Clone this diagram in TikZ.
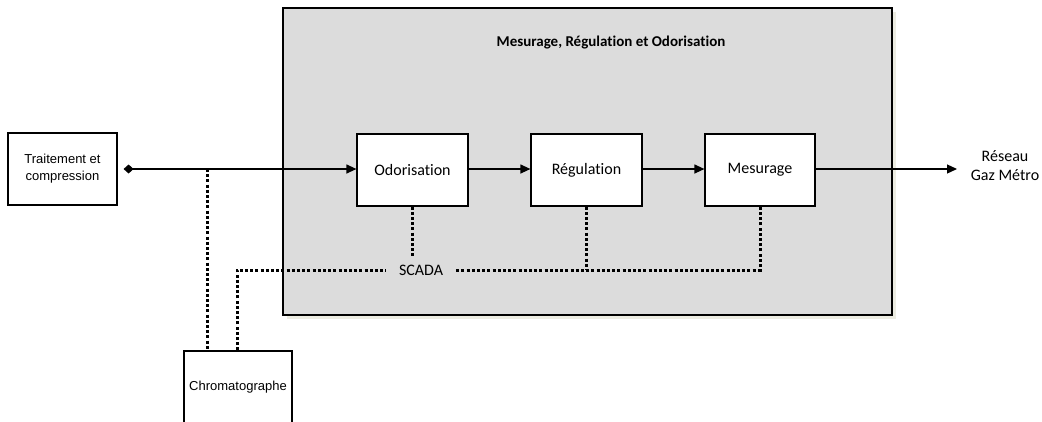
\documentclass[tikz,border=0pt]{standalone}
\usepackage{fontspec}
\newfontfamily\calfont{Carlito}[Ligatures=NoCommon]
\newfontfamily\arifont{Liberation Sans}
\usetikzlibrary{arrows.meta}
\definecolor{panelgray}{RGB}{220,220,220}
\definecolor{shadowgray}{RGB}{236,236,226}
\tikzset{
  blockbox/.style={draw=black, line width=1.2pt, fill=white, rectangle, inner sep=0pt,
    minimum width=111pt, minimum height=72pt, font=\calfont\fontsize{16}{19}\selectfont},
  sidebox/.style={draw=black, line width=1.2pt, fill=white, rectangle, inner sep=0pt,
    minimum width=109pt, minimum height=72pt, align=center, font=\arifont\fontsize{13}{17}\selectfont},
  flow/.style={line width=1.2pt, -{Triangle[length=10pt,width=9pt]}},
  signal/.style={line width=3pt, dash pattern=on 3pt off 2.2pt},
  plain/.style={font=\calfont\fontsize{16}{19}\selectfont, align=center}
}
\begin{document}
\begin{tikzpicture}[x=1pt,y=-1pt]
\useasboundingbox (0,0) rectangle (1042,421);
\clip (0,0) rectangle (1042,421);
% panel with shadow
\fill[shadowgray] (287,12) rectangle (896,319);
\draw[line width=1.3pt, fill=panelgray] (283,8) rectangle (892,315);
\node[font=\calfont\bfseries\fontsize{15}{18}\selectfont] (title) at (611,43) {Mesurage, Régulation et Odorisation};
% nodes
\node[sidebox] (trait) at (62.5,169) {Traitement et\\compression};
\node[blockbox] (odo) at (412.5,170) {Odorisation};
\node[blockbox] (reg) at (586.5,170) {Régulation};
\node[blockbox, minimum width=110pt] (mes) at (760,170) {Mesurage};
\node[sidebox, minimum width=108pt] (chrom) at (238,387) {Chromatographe};
\node[plain, inner xsep=13pt, inner ysep=6pt] (scada) at (421,270) {SCADA};
\node[plain] (reseau) at (1005,166) {Réseau\\Gaz Métro};
\coordinate (net) at (957,169);
\coordinate (j1) at (207,169);
\coordinate (c2) at (237,270);
% main flow
\draw[line width=1.2pt, {Diamond[length=10pt,width=9pt]}-{Triangle[length=10pt,width=9pt]}] ([xshift=6pt]trait.east |- 0,169) -- (odo.west |- 0,169);
\draw[flow] (odo.east |- 0,169) -- (reg.west |- 0,169);
\draw[flow] (reg.east |- 0,169) -- (mes.west |- 0,169);
\draw[flow] (mes.east |- 0,169) -- (net);
% signal lines
\draw[signal] (j1) -- (j1 |- chrom.north);
\draw[signal] (c2 |- chrom.north) -- (c2) -- (scada.west);
\draw[signal] (odo.south) -- (odo.south |- scada.north);
\draw[signal] (scada.east) -- (mes.south |- scada.east) -- (mes.south);
\draw[signal] (reg.south) -- (reg.south |- scada.east);
\end{tikzpicture}
\end{document}
